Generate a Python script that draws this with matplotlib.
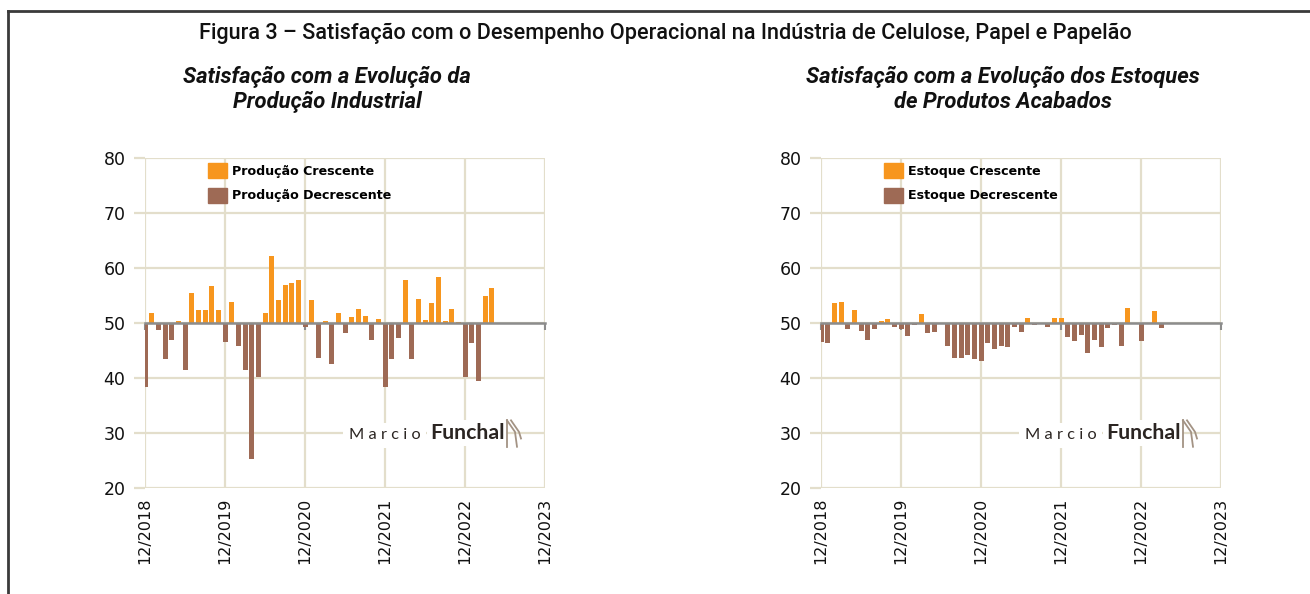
import matplotlib
matplotlib.use("Agg")
import matplotlib.pyplot as plt
from matplotlib.lines import Line2D
from matplotlib.patches import Patch

# ---------------- data ----------------
producao = [38.3, 51.9, 48.8, 43.5, 46.9, 50.3, 41.5, 55.4, 52.3, 52.3, 56.8, 52.3,
            46.6, 53.9, 45.9, 41.5, 25.2, 40.1, 51.9, 62.1, 54.1, 57.0, 57.2, 57.9,
            49.3, 54.1, 43.7, 50.3, 42.6, 51.9, 48.2, 51.1, 52.6, 51.3, 46.9, 50.7,
            38.3, 43.4, 47.2, 57.8, 43.5, 54.4, 50.6, 53.7, 58.4, 50.3, 52.5, 50.2,
            40.1, 46.3, 39.4, 55.0, 56.3]
estoque = [46.6, 46.4, 53.7, 53.9, 49.0, 52.3, 48.6, 47.0, 48.9, 50.4, 50.8, 49.2,
           48.9, 47.7, 49.7, 51.7, 48.2, 48.3, 50.0, 45.8, 43.7, 43.7, 44.2, 43.4,
           43.1, 46.3, 45.2, 45.9, 45.7, 49.2, 48.4, 50.9, 49.7, 50.0, 49.2, 51.0,
           51.0, 47.4, 46.8, 47.9, 44.6, 46.9, 45.7, 49.1, 49.7, 45.8, 52.8, 50.0,
           46.8, 50.0, 52.1, 49.1]
xtick_labels = ["12/2018", "12/2019", "12/2020", "12/2021", "12/2022", "12/2023"]
yticks = [20, 30, 40, 50, 60, 70, 80]
baseline = 50

panels = [
    dict(values=producao,
         title=["Satisfação com a Evolução da", "Produção Industrial"],
         leg=["Produção Crescente", "Produção Decrescente"]),
    dict(values=estoque,
         title=["Satisfação com a Evolução dos Estoques", "de Produtos Acabados"],
         leg=["Estoque Crescente", "Estoque Decrescente"]),
]

ORANGE = "#F7961E"
BROWN = "#9E6A55"
GRID = "#E3DECB"
BASE = "#8C8C8C"

W, H = 1310, 594
fig = plt.figure(figsize=(W / 100, H / 100), dpi=100)

# frame
fig.add_artist(Line2D([7.5 / W, 7.5 / W], [0, 1 - 10.5 / H], color="#3a3a3a", lw=2))
fig.add_artist(Line2D([7.5 / W, 1], [1 - 10.5 / H, 1 - 10.5 / H], color="#3a3a3a", lw=2))

fig.text(665 / W, 1 - 33 / H,
         "Figura 3 – Satisfação com o Desempenho Operacional na Indústria de Celulose, Papel e Papelão",
         ha="center", va="center", fontsize=15.6, family="Roboto", fontweight="medium",
         color="#111111")

lefts = [145, 821]
for p, left in zip(panels, lefts):
    ax = fig.add_axes([left / W, 1 - 488 / H, 400 / W, 330 / H])
    vals = p["values"]
    n_months = 5 * 12
    xs = list(range(len(vals)))
    up_x = [x for x, v in zip(xs, vals) if v >= baseline]
    up_h = [v - baseline for v in vals if v >= baseline]
    dn_x = [x for x, v in zip(xs, vals) if v < baseline]
    dn_h = [v - baseline for v in vals if v < baseline]
    ax.bar(up_x, up_h, bottom=baseline, width=0.75, color=ORANGE, zorder=2)
    ax.bar(dn_x, dn_h, bottom=baseline, width=0.75, color=BROWN, zorder=2)

    ax.set_xlim(0, n_months)
    ax.set_ylim(yticks[0], yticks[-1])
    ax.set_axisbelow(True)
    ax.set_yticks(yticks)
    ax.set_xticks(range(0, n_months + 1, 12))
    ax.grid(True, color=GRID, lw=1.6)
    for s in ["top", "right", "left"]:
        ax.spines[s].set_visible(False)
    ax.spines["bottom"].set_position(("data", baseline))
    ax.spines["bottom"].set_color(BASE)
    ax.spines["bottom"].set_linewidth(1.8)
    ax.spines["bottom"].set_zorder(3)
    ax.tick_params(axis="x", direction="out", length=5, width=1.5, color=BASE,
                   labelbottom=False)
    ax.tick_params(axis="y", direction="out", length=8, width=1.6, color=GRID,
                   labelsize=12.5, pad=6, labelcolor="#111111")

    sec = ax.secondary_xaxis(0.0)
    sec.set_xticks(range(0, n_months + 1, 12), xtick_labels)
    sec.spines["bottom"].set_visible(False)
    sec.tick_params(length=0, pad=7, labelsize=11.5, labelrotation=90,
                    labelcolor="#111111")

    # subtitle
    for line, yy in zip(p["title"], [77, 102]):
        fig.text((left + 182) / W, 1 - yy / H, line, ha="center", va="center",
                 fontsize=15.8, fontweight="bold", fontstyle="italic", family="Roboto",
                 color="#111111")

    handles = [Patch(color=ORANGE), Patch(color=BROWN)]
    ax.legend(handles, p["leg"], loc="upper left", bbox_to_anchor=(0.13, 1.018),
              frameon=False, handlelength=1.45, handleheight=1.45, handletextpad=0.45,
              labelspacing=0.72, prop=dict(family="DejaVu Sans", weight="bold", size=9.1))

    # logo
    ax.text(0.51, 0.148, "M a r c i o", transform=ax.transAxes, fontsize=11.8,
            family="Lato", fontweight="normal", color="#2b2522", va="baseline",
            ha="left", zorder=5,
            bbox=dict(facecolor="white", edgecolor="none", pad=4))
    ax.text(0.7125, 0.148, "Funchal", transform=ax.transAxes, fontsize=15.3,
            family="Lato", fontweight="bold", color="#2b2522", va="baseline",
            ha="left", zorder=6,
            bbox=dict(facecolor="white", edgecolor="none", pad=2))
    ic = "#A39384"
    ax.add_artist(Line2D([0.905, 0.905], [0.125, 0.205], transform=ax.transAxes,
                         color=ic, lw=1.3, zorder=7))
    ax.add_artist(Line2D([0.905, 0.925, 0.93], [0.205, 0.17, 0.125], transform=ax.transAxes,
                         color=ic, lw=1.3, zorder=7))
    ax.add_artist(Line2D([0.915, 0.935, 0.94], [0.205, 0.17, 0.15], transform=ax.transAxes,
                         color=ic, lw=1.3, zorder=7))

fig.savefig("out.png", dpi=100)
